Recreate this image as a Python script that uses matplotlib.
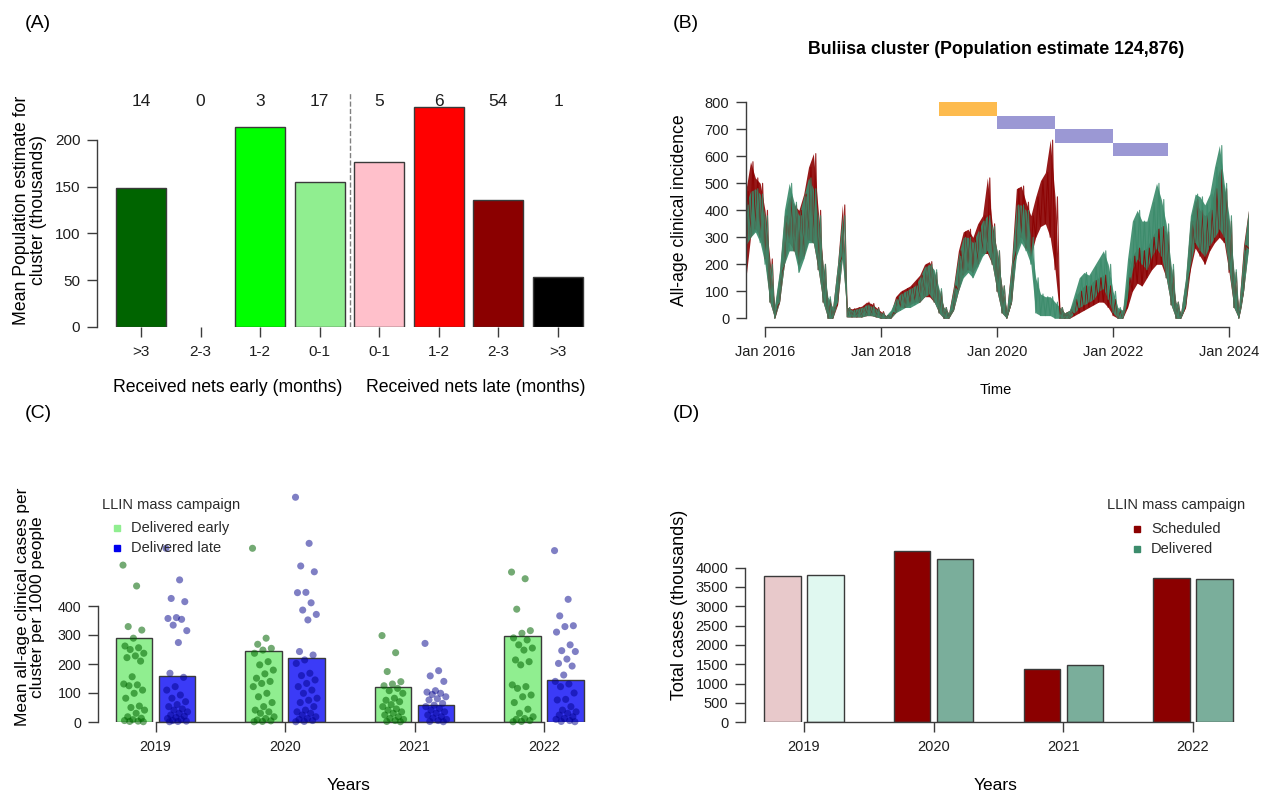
import numpy as np
import pandas as pd
import matplotlib
matplotlib.use('Agg')
import matplotlib.pyplot as plt
from matplotlib.lines import Line2D

plt.rcParams['font.family'] = ['Liberation Sans', 'DejaVu Sans']

W, H = 1264, 795

# (A) clusters by how early / late they received nets
net_groups = ['>3', '2-3', '1-2', '0-1', '0-1', '1-2', '2-3', '>3']
cluster_counts = [14, 0, 3, 17, 5, 6, 54, 1]
mean_population = [149, 0, 214, 155, 176, 235, 136, 53]

# (B) Buliisa cluster, monthly envelope of simulated incidence from Sep 2015
inc_start = '2015-09-01'
green_lo = [270, 300, 320, 280,
            200, 60, 0, 60, 200, 250, 250, 170, 220, 280, 280, 180,
            60, 0, 0, 60, 220, 5, 5, 5, 5, 10, 10, 5,
            0, 0, 0, 20, 30, 40, 40, 50, 60, 80, 90, 60,
            20, 0, 0, 30, 100, 150, 170, 150, 190, 230, 250, 200,
            100, 20, 0, 60, 230, 280, 250, 200, 20, 10, 10, 10,
            0, 0, 0, 0, 20, 40, 50, 60, 70, 100, 110, 70,
            20, 0, 0, 80, 180, 220, 200, 180, 230, 260, 230, 150,
            50, 0, 0, 50, 200, 280, 250, 230, 270, 300, 330, 300,
            180, 40, 0, 100, 250]
green_hi = [420, 470, 480, 460,
            380, 200, 50, 180, 400, 500, 430, 380, 450, 520, 480, 380,
            200, 80, 40, 200, 380, 40, 30, 35, 40, 50, 45, 35,
            20, 10, 30, 70, 90, 100, 110, 120, 150, 190, 200, 180,
            110, 40, 20, 110, 230, 300, 300, 280, 320, 360, 380, 340,
            250, 120, 30, 200, 420, 420, 400, 300, 150, 90, 80, 80,
            60, 40, 20, 30, 90, 150, 170, 160, 190, 220, 250, 200,
            100, 40, 30, 220, 360, 400, 360, 360, 430, 500, 440, 350,
            200, 60, 20, 150, 380, 460, 450, 420, 460, 560, 640, 500,
            380, 180, 40, 250, 400]
red_lo = [140, 300, 330, 300,
          220, 60, 0, 60, 200, 280, 250, 200, 230, 290, 280, 180,
          60, 0, 0, 50, 230, 5, 5, 5, 5, 10, 10, 5,
          0, 0, 0, 20, 40, 40, 50, 60, 60, 80, 80, 60,
          20, 0, 0, 30, 100, 160, 180, 170, 200, 240, 240, 200,
          100, 20, 0, 60, 250, 300, 260, 230, 300, 340, 350, 300,
          180, 0, 0, 0, 10, 20, 30, 40, 50, 60, 60, 40,
          10, 0, 0, 40, 100, 130, 120, 150, 180, 200, 200, 150,
          50, 0, 0, 40, 180, 260, 230, 200, 250, 280, 300, 280,
          170, 40, 0, 100, 260]
red_hi = [470, 580, 520, 500,
          400, 220, 40, 170, 380, 450, 420, 400, 460, 560, 610, 400,
          200, 70, 40, 200, 420, 40, 35, 40, 45, 60, 55, 40,
          25, 10, 20, 80, 100, 110, 120, 140, 160, 200, 210, 170,
          100, 40, 20, 120, 250, 320, 330, 300, 350, 380, 520, 350,
          250, 120, 30, 210, 480, 490, 430, 380, 450, 510, 540, 660,
          450, 40, 20, 30, 70, 100, 120, 120, 140, 150, 160, 120,
          70, 30, 30, 150, 230, 260, 250, 260, 300, 330, 340, 320,
          180, 60, 20, 140, 360, 440, 400, 380, 400, 480, 550, 480,
          360, 170, 40, 270, 400]

# campaign windows (decimal years) drawn as bars at the top
campaign_start = [2019, 2020, 2021, 2022]
campaign_end = [2020, 2021, 2022, 2022.95]
campaign_lo = [750, 700, 650, 600]
campaign_hi = [800, 750, 700, 650]

# (C) mean clinical cases per cluster per 1000 people
years = ['2019', '2020', '2021', '2022']
early_mean = [288, 245, 120, 298]
late_mean = [158, 220, 58, 145]
early_pts = [
    [541, 469, 329, 317, 289, 262, 256, 250, 237, 228, 222, 210, 156, 131, 128,
     125, 110, 99, 82, 55, 50, 41, 30, 18, 13, 8, 5, 3, 2, 1],
    [599, 289, 268, 254, 248, 237, 208, 197, 179, 166, 151, 140, 133, 122, 99,
     87, 67, 53, 41, 35, 30, 18, 12, 7, 4, 2, 1],
    [298, 239, 174, 139, 131, 125, 116, 108, 99, 82, 75, 70, 60, 53, 45, 41, 35,
     30, 24, 18, 12, 9, 5, 2, 1],
    [517, 494, 389, 315, 306, 290, 283, 266, 255, 248, 214, 208, 197, 128, 122,
     116, 93, 87, 67, 44, 30, 18, 12, 9, 5, 2, 1],
]
late_pts = [
    [599, 490, 426, 415, 360, 357, 354, 334, 315, 274, 168, 154, 122, 110, 93, 82,
     70, 60, 53, 45, 41, 35, 30, 24, 20, 16, 12, 9, 5, 3, 2, 1],
    [775, 616, 538, 518, 447, 446, 411, 386, 371, 352, 243, 231, 214, 202, 168,
     160, 145, 133, 122, 110, 99, 82, 75, 67, 53, 41, 35, 30, 24, 18, 12, 9, 5, 2, 1],
    [271, 177, 159, 140, 108, 103, 99, 95, 87, 80, 76, 64, 58, 53, 47, 41, 35, 30,
     24, 18, 14, 9, 5, 2, 1],
    [591, 423, 366, 332, 329, 310, 266, 246, 243, 217, 202, 193, 162, 140, 131,
     122, 100, 78, 76, 53, 41, 35, 30, 24, 18, 12, 9, 5, 2, 1],
]

# (D) total cases (thousands)
scheduled_total = [3784, 4430, 1379, 3733]
delivered_total = [3810, 4224, 1482, 3707]

AXC = '#3c3c3c'
EDGE = '#3a3a3a'

fig = plt.figure(figsize=(W / 100, H / 100), dpi=100)


def add_ax(x0, y0, x1, y1):
    return fig.add_axes([x0 / W, 1 - y1 / H, (x1 - x0) / W, (y1 - y0) / H])


def ftext(x, y, s, **kw):
    kw.setdefault('ha', 'center')
    kw.setdefault('va', 'center')
    fig.text(x / W, 1 - y / H, s, **kw)


def fmarker(x, y, color):
    fig.add_artist(Line2D([x / W], [1 - y / H], marker='s', markersize=4.5,
                          color=color, linestyle='none', transform=fig.transFigure))


def base_style(ax, size):
    for s in ['top', 'right']:
        ax.spines[s].set_visible(False)
    for s in ['left', 'bottom']:
        ax.spines[s].set_color(AXC)
        ax.spines[s].set_linewidth(1.0)
    ax.tick_params(direction='out', length=7, width=1.0, color=AXC,
                   labelcolor='#1e1e1e', labelsize=size)
    ax.tick_params(axis='y', pad=5)
    ax.tick_params(axis='x', pad=6)
    ax.patch.set_alpha(0)


def noisy_band(ax, t, lo, hi, color, fill_alpha):
    # filled envelope with a lo/hi zigzag on top for ragged edges
    lo = np.asarray(lo, float)
    hi = np.asarray(hi, float)
    ax.fill_between(t, lo, hi, color=color, alpha=fill_alpha, linewidth=0)
    zx = np.empty(2 * len(t) - 1)
    zy = np.empty(2 * len(t) - 1)
    zx[0::2] = t
    zx[1::2] = t[:-1] + 1 / 24
    zy[0::2] = lo
    zy[1::2] = hi[:-1]
    ax.plot(zx, zy, color=color, linewidth=0.8, alpha=0.85)


# ---- (A)
axA = add_ax(97, 93, 595, 326.7)
xa = np.arange(len(mean_population))
colA = ['#006400', '#ffffff', '#00ff00', '#90ee90', '#ffc0cb', '#ff0000', '#8b0000', '#000000']
axA.bar(xa, mean_population, width=0.84, color=colA, edgecolor=EDGE,
        linewidth=[1.0 if v > 0 else 0 for v in mean_population])
axA.set_xlim(-0.738, 7.62)
axA.set_ylim(0, 250.3)
base_style(axA, 11)
axA.spines['bottom'].set_visible(False)
axA.spines['left'].set_bounds(0, 200)
axA.set_yticks([0, 50, 100, 150, 200])
axA.set_xticks(xa)
axA.set_xticklabels(net_groups)
axA.axvline(3.5, color='#808080', linestyle='--', linewidth=1.0)
for xi, c in zip(xa, cluster_counts):
    axA.text(xi, 240.7, str(c), ha='center', va='center', fontsize=12.5, color='#1e1e1e')
ftext(38, 23, '(A)', fontsize=14)
ftext(30, 210, 'Mean Population estimate for\ncluster (thousands)', rotation=90,
      fontsize=12.7, linespacing=1.05, multialignment='center')
ftext(228, 388, 'Received nets early (months)', fontsize=12.7)
ftext(476, 388, 'Received nets late (months)', fontsize=12.7)

# ---- (B)
axB = add_ax(746, 91, 1255, 327)
months = pd.date_range(inc_start, periods=len(green_lo), freq='MS')
t = np.asarray(months.year + (months.month - 1) / 12, float)
noisy_band(axB, t, red_lo, red_hi, '#8b0000', 0.9)
noisy_band(axB, t, green_lo, green_hi, '#3b8b6b', 0.92)
camp_colors = ['#fdbb4e', '#9b98d4', '#9b98d4', '#9b98d4']
for s, e, lo, hi, c in zip(campaign_start, campaign_end, campaign_lo, campaign_hi, camp_colors):
    axB.fill_between([s, e], lo, hi, color=c, linewidth=0)
axB.set_xlim(2015.672, 2024.448)
axB.set_ylim(-32.2, 841.9)
base_style(axB, 10.5)
axB.spines['left'].set_bounds(0, 800)
axB.spines['bottom'].set_bounds(2016, 2024)
axB.set_yticks(range(0, 801, 100))
axB.set_xticks([2016, 2018, 2020, 2022, 2024])
axB.set_xticklabels(['Jan 2016', 'Jan 2018', 'Jan 2020', 'Jan 2022', 'Jan 2024'])
ftext(686, 23, '(B)', fontsize=14)
ftext(996, 50, 'Buliisa cluster (Population estimate 124,876)', fontsize=12.8,
      fontweight='bold')
ftext(680, 210, 'All-age clinical incidence', rotation=90, fontsize=12.7)
ftext(996, 390, 'Time', fontsize=10.5)

# ---- (C)
axC = add_ax(98, 490, 600, 722)
g = np.arange(len(years))
off = 0.166
axC.bar(g - off, early_mean, width=0.282, color='#90ee90', edgecolor=EDGE, linewidth=1.0)
axC.bar(g + off, late_mean, width=0.282, color='#3b3bf7', edgecolor=EDGE, linewidth=1.0)
for i in g:
    for pts, dx, col, a in [(early_pts[i], -off, '#006400', 0.55),
                            (late_pts[i], off, '#00008b', 0.5)]:
        j = np.arange(len(pts))
        jit = ((j * 0.618034) % 1 - 0.5) * 0.17
        axC.scatter(i + dx + jit, pts, s=26, color=col, alpha=a,
                    edgecolors='none', zorder=3, clip_on=False)
axC.set_xlim(-0.444, 3.432)
axC.set_ylim(0, 800)
base_style(axC, 10.3)
axC.spines['left'].set_bounds(0, 400)
axC.spines['bottom'].set_bounds(0, 3)
axC.set_yticks([0, 100, 200, 300, 400])
axC.set_xticks(g)
axC.set_xticklabels(years)
ftext(38, 413, '(C)', fontsize=14)
ftext(30, 607, 'Mean all-age clinical cases per\ncluster per 1000 people', rotation=90,
      fontsize=12.5, linespacing=1.05, multialignment='center')
ftext(349, 785, 'Years', fontsize=12.5)
ftext(102, 505, 'LLIN mass campaign', ha='left', fontsize=10.5, color='#2a2a2a')
fmarker(117, 528, '#90ee90')
ftext(131, 528, 'Delivered early', ha='left', fontsize=10.5, color='#2a2a2a')
fmarker(117, 548, '#0000ee')
ftext(131, 548, 'Delivered late', ha='left', fontsize=10.5, color='#2a2a2a')

# ---- (D)
axD = add_ax(745, 490, 1255, 722.3)
sched_cols = ['#e8c9cb', '#8b0000', '#8b0000', '#8b0000']
deliv_cols = ['#e0f8f0', '#7aae9b', '#7aae9b', '#7aae9b']
axD.bar(g - off, scheduled_total, width=0.281, color=sched_cols, edgecolor=EDGE, linewidth=1.0)
axD.bar(g + off, delivered_total, width=0.281, color=deliv_cols, edgecolor=EDGE, linewidth=1.0)
axD.set_xlim(-0.455, 3.478)
axD.set_ylim(0, 6009)
base_style(axD, 10.5)
axD.spines['left'].set_bounds(0, 4000)
axD.spines['bottom'].set_bounds(0, 3)
axD.set_yticks(range(0, 4001, 500))
axD.set_xticks(g)
axD.set_xticklabels(years)
ftext(686, 413, '(D)', fontsize=14)
ftext(680, 605, 'Total cases (thousands)', rotation=90, fontsize=13)
ftext(996, 785, 'Years', fontsize=12.5)
ftext(1107, 505, 'LLIN mass campaign', ha='left', fontsize=10.5, color='#2a2a2a')
fmarker(1137, 529, '#8b0000')
ftext(1151, 529, 'Scheduled', ha='left', fontsize=10.5, color='#2a2a2a')
fmarker(1137, 549, '#3c8c6c')
ftext(1151, 549, 'Delivered', ha='left', fontsize=10.5, color='#2a2a2a')

fig.savefig('out.png', dpi=100)
